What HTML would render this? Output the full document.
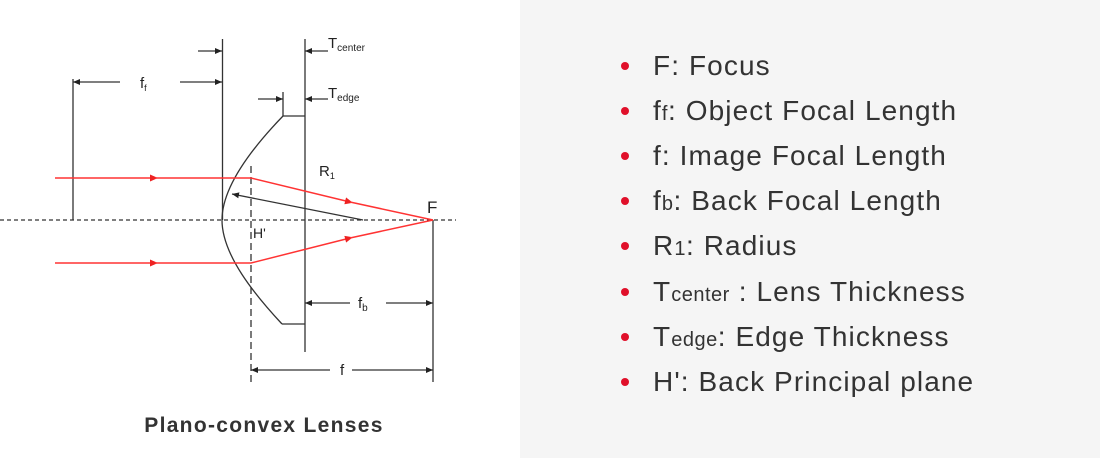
<!DOCTYPE html>
<html><head><style>
html,body{margin:0;padding:0;width:1100px;height:458px;overflow:hidden;background:#fff;}
.panel{position:absolute;left:520px;top:0;width:580px;height:458px;background:#f5f5f5;}
.item{position:absolute;left:653px;font-family:"Liberation Sans",sans-serif;font-size:28px;letter-spacing:1.1px;color:#333;line-height:30px;white-space:nowrap;}
.dot{position:absolute;left:621px;width:8px;height:8px;border-radius:50%;background:#e0102a;}
.s{font-size:20px;letter-spacing:0.5px;}
svg{position:absolute;left:0;top:0;}
</style></head><body>
<div class="panel"></div>
<svg width="520" height="458" font-family="Liberation Sans, sans-serif">
<defs>
<marker id="a" markerWidth="8" markerHeight="8" refX="7" refY="4" orient="auto" markerUnits="userSpaceOnUse"><path d="M0,1 L7,4 L0,7z" fill="#222"/></marker>
<marker id="r" markerWidth="10" markerHeight="8" refX="5" refY="4" orient="auto" markerUnits="userSpaceOnUse"><path d="M0,0.5 L8,4 L0,7.5z" fill="#e22"/></marker>
</defs>
<g stroke="#333" stroke-width="1.3" fill="none">
<line x1="0" y1="220" x2="456" y2="220" stroke-dasharray="4,3"/>
<line x1="222.5" y1="39" x2="222.5" y2="220"/>
<line x1="73" y1="79" x2="73" y2="220"/>
<line x1="305" y1="39" x2="305" y2="352"/>
<line x1="283" y1="92" x2="283" y2="116"/>
<path d="M283,116 L305,116 M282,324 L305,324"/>
<path d="M283,116 C255,145 222,185 222,220 C222,255 255,295 282,324"/>
<line x1="251" y1="166" x2="251" y2="382" stroke-dasharray="7,4"/>
<line x1="433" y1="220" x2="433" y2="382"/>
<line x1="198" y1="51" x2="222" y2="51" marker-end="url(#a)"/>
<line x1="328" y1="51" x2="305" y2="51" marker-end="url(#a)"/>
<line x1="120" y1="82" x2="73" y2="82" marker-end="url(#a)"/>
<line x1="180" y1="82" x2="222" y2="82" marker-end="url(#a)"/>
<line x1="258" y1="99" x2="283" y2="99" marker-end="url(#a)"/>
<line x1="328" y1="99" x2="305" y2="99" marker-end="url(#a)"/>
<line x1="350" y1="303" x2="305" y2="303" marker-end="url(#a)"/>
<line x1="386" y1="303" x2="433" y2="303" marker-end="url(#a)"/>
<line x1="330" y1="370" x2="251" y2="370" marker-end="url(#a)"/>
<line x1="352" y1="370" x2="433" y2="370" marker-end="url(#a)"/>
<line x1="363" y1="220" x2="232" y2="194" marker-end="url(#a)"/>
</g>
<g stroke="#f33" stroke-width="1.5" fill="none">
<polyline points="55,178 155,178" marker-end="url(#r)"/>
<polyline points="155,178 251,178 350,202" marker-end="url(#r)"/>
<line x1="350" y1="202" x2="433" y2="220"/>
<polyline points="55,263 155,263" marker-end="url(#r)"/>
<polyline points="155,263 251,263 350,238" marker-end="url(#r)"/>
<line x1="350" y1="238" x2="433" y2="220"/>
</g>
<g fill="#222">
<text x="140" y="88" font-size="15">f<tspan font-size="9" dy="3">f</tspan></text>
<text x="328" y="48" font-size="15">T<tspan font-size="10" dy="3">center</tspan></text>
<text x="328" y="98" font-size="15">T<tspan font-size="10" dy="3">edge</tspan></text>
<text x="319" y="176" font-size="15">R<tspan font-size="9" dy="3">1</tspan></text>
<text x="427" y="213" font-size="17">F</text>
<text x="253" y="238" font-size="14">H'</text>
<text x="358" y="308" font-size="15">f<tspan font-size="10" dy="3">b</tspan></text>
<text x="340" y="375" font-size="15">f</text>
<text x="264" y="432" font-size="21" font-weight="bold" letter-spacing="1.3" text-anchor="middle" fill="#333">Plano-convex Lenses</text>
</g>
</svg>
<div class="dot" style="top:62px"></div><div class="item" style="top:51px">F: Focus</div>
<div class="dot" style="top:107px"></div><div class="item" style="top:96px">f<span class="s">f</span>: Object Focal Length</div>
<div class="dot" style="top:152px"></div><div class="item" style="top:141px">f: Image Focal Length</div>
<div class="dot" style="top:197px"></div><div class="item" style="top:186px">f<span class="s">b</span>: Back Focal Length</div>
<div class="dot" style="top:242px"></div><div class="item" style="top:231px">R<span class="s">1</span>: Radius</div>
<div class="dot" style="top:288px"></div><div class="item" style="top:277px">T<span class="s">center</span> : Lens Thickness</div>
<div class="dot" style="top:333px"></div><div class="item" style="top:322px">T<span class="s">edge</span>: Edge Thickness</div>
<div class="dot" style="top:378px"></div><div class="item" style="top:367px">H': Back Principal plane</div>
</body></html>
